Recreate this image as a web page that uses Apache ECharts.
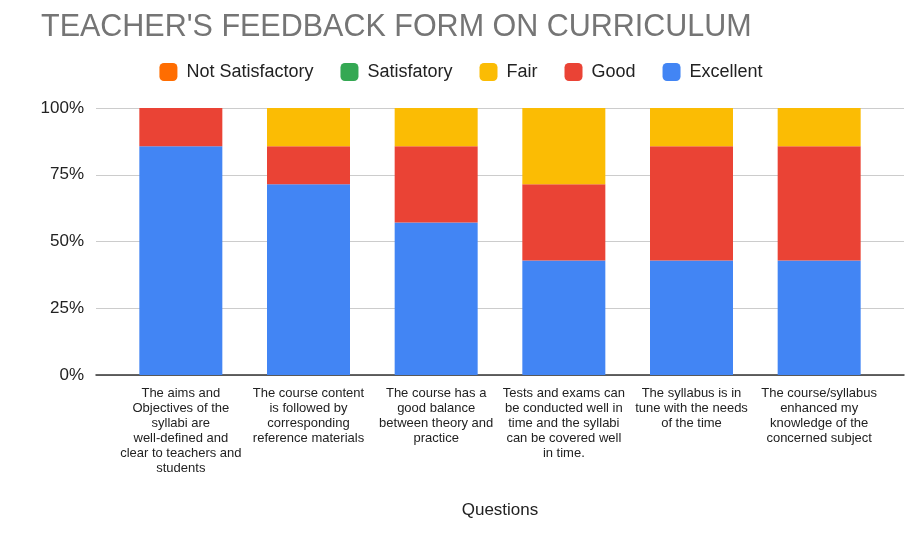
<!DOCTYPE html>
<html><head><meta charset="utf-8">
<script src="https://cdn.jsdelivr.net/npm/echarts@6/dist/echarts.min.js"></script>
<style>html,body{margin:0;padding:0;background:#fff}#c{width:922px;height:547px}</style>
</head><body><div id="c"></div>
<script>
const categories = [
  "The aims and\nObjectives of the\nsyllabi are\nwell-defined and\nclear to teachers and\nstudents",
  "The course content\nis followed by\ncorresponding\nreference materials",
  "The course has a\ngood balance\nbetween theory and\npractice",
  "Tests and exams can\nbe conducted well in\ntime and the syllabi\ncan be covered well\nin time.",
  "The syllabus is in\ntune with the needs\nof the time",
  "The course/syllabus\nenhanced my\nknowledge of the\nconcerned subject"
];
const excellent = [6, 5, 4, 3, 3, 3];
const good = [1, 1, 2, 2, 3, 3];
const fair = [0, 1, 1, 2, 1, 1];
const satisfatory = [0, 0, 0, 0, 0, 0];
const notSatisfactory = [0, 0, 0, 0, 0, 0];
const yTicks = [0, 25, 50, 75, 100];

const totals = categories.map((_, i) => excellent[i] + good[i] + fair[i] + satisfatory[i] + notSatisfactory[i]);
const pct = arr => arr.map((v, i) => v / totals[i] * 100);

const font = "'Liberation Sans', Arial, sans-serif";
const chart = echarts.init(document.getElementById('c'), null, {renderer: 'canvas'});
const mk = (name, data, color) => ({
  name, type: 'bar', stack: 'total', data: pct(data), xAxisIndex: 0, yAxisIndex: 0,
  itemStyle: {color}, barWidth: 83, emphasis: {disabled: true}
});
chart.setOption({
  animation: false,
  textStyle: {fontFamily: font},
  title: {text: "TEACHER'S FEEDBACK FORM ON CURRICULUM", left: 36, top: 7,
    textStyle: {fontSize: 30.5, fontWeight: 'normal', color: '#757575', fontFamily: font}},
  legend: {
    data: ['Not Satisfactory', 'Satisfatory', 'Fair', 'Good', 'Excellent'],
    top: 58, left: 'center', itemWidth: 18, itemHeight: 18, itemGap: 27,
    icon: 'roundRect',
    textStyle: {fontSize: 18, color: '#222', fontFamily: font, padding: [0, 0, 0, 4]}
  },
  grid: [
    {left: 117, right: 39, top: 108, bottom: 172},
    {left: 96, right: 18, top: 108, bottom: 172}
  ],
  xAxis: [
    {type: 'category', gridIndex: 0, data: categories,
      axisLine: {show: false}, axisTick: {show: false},
      axisLabel: {interval: 0, fontSize: 13, lineHeight: 15, color: '#222', margin: 11, fontFamily: font},
      name: 'Questions', nameLocation: 'middle', nameGap: 127,
      nameTextStyle: {fontSize: 17, color: '#222', fontFamily: font}},
    {type: 'value', gridIndex: 1, min: 0, max: 1, show: true,
      axisLine: {show: true, onZero: false, lineStyle: {color: '#333', width: 1.5}},
      axisTick: {show: false}, axisLabel: {show: false}, splitLine: {show: false}}
  ],
  yAxis: [
    {type: 'value', gridIndex: 0, min: 0, max: 100, interval: 25, show: false, splitLine: {show: false}},
    {type: 'value', gridIndex: 1, min: yTicks[0], max: yTicks[yTicks.length - 1], interval: 25,
      axisLine: {show: false}, axisTick: {show: false},
      axisLabel: {formatter: '{value}%', fontSize: 17, color: '#222', margin: 12, fontFamily: font},
      splitLine: {lineStyle: {color: '#cccccc', width: 1}}}
  ],
  series: [
    mk('Excellent', excellent, '#4285f4'),
    mk('Good', good, '#ea4335'),
    mk('Fair', fair, '#fbbc04'),
    mk('Satisfatory', satisfatory, '#34a853'),
    mk('Not Satisfactory', notSatisfactory, '#ff6d01')
  ]
});
</script></body></html>
